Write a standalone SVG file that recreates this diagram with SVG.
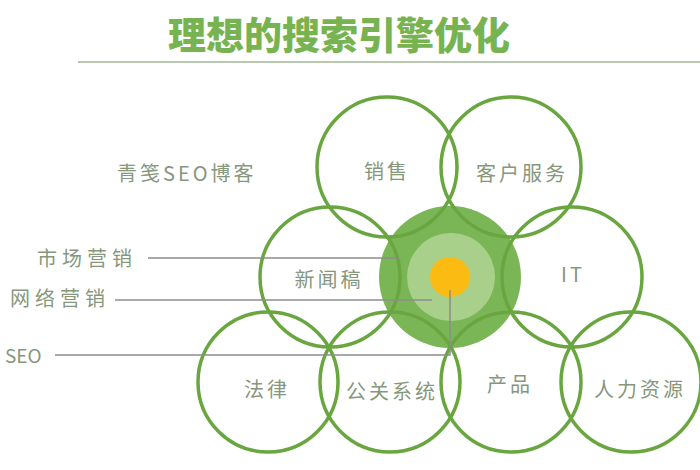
<svg xmlns="http://www.w3.org/2000/svg" width="700" height="470" viewBox="0 0 700 470">
<style>
.ring{fill:none;stroke:#6aa640;stroke-width:3.5}
.lbl{font-family:"Noto Sans CJK SC","Liberation Sans",sans-serif;font-size:20px;fill:#86977c;text-anchor:middle;dominant-baseline:central;letter-spacing:3px}
.side{font-family:"Noto Sans CJK SC","Liberation Sans",sans-serif;font-size:20px;fill:#86977c;dominant-baseline:central;letter-spacing:5px}
.conn{fill:none;stroke:#8c8c8c;stroke-width:1.5}
</style>
<rect width="700" height="470" fill="#ffffff"/>
<g id="title">
<text x="339" y="32" font-family="'Noto Sans CJK SC',sans-serif" font-size="38" font-weight="900" fill="#78b352" text-anchor="middle" dominant-baseline="central">理想的搜索引擎优化</text>
<line x1="78" y1="62" x2="700" y2="62" stroke="#9fb894" stroke-width="1.5"/>
</g>
<g id="core">
<circle cx="450" cy="277" r="71" fill="#7bb656"/>
<circle cx="451" cy="277" r="44" fill="#a8d08b"/>
<circle cx="450" cy="277" r="20" fill="#fbbb12"/>
</g>
<g id="n-sales"><circle class="ring" cx="387" cy="167" r="70"/><text class="lbl" x="387" y="170">销售</text></g>
<g id="n-service"><circle class="ring" cx="511" cy="167" r="70"/><text class="lbl" x="522" y="172">客户服务</text></g>
<g id="n-news"><circle class="ring" cx="330" cy="277" r="70"/><text class="lbl" x="329" y="278">新闻稿</text></g>
<g id="n-it"><circle class="ring" cx="572" cy="277" r="70"/><text class="lbl" x="573" y="273">IT</text></g>
<g id="n-law"><circle class="ring" cx="268" cy="382" r="70"/><text class="lbl" x="267" y="388">法律</text></g>
<g id="n-pr"><circle class="ring" cx="390" cy="382" r="70"/><text class="lbl" x="392" y="390">公关系统</text></g>
<g id="n-product"><circle class="ring" cx="511" cy="382" r="70"/><text class="lbl" x="510" y="383">产品</text></g>
<g id="n-hr"><circle class="ring" cx="631" cy="382" r="70"/><text class="lbl" x="640" y="388">人力资源</text></g>
<g id="n-blog"><text class="side" x="117" y="172" style="letter-spacing:3px">青笺SEO博客</text></g>
<g id="n-market"><text class="side" x="37" y="257">市场营销</text></g>
<g id="n-web"><text class="side" x="10" y="297">网络营销</text></g>
<g id="n-seo"><text class="side" x="5" y="354" style="letter-spacing:0;font-size:19px">SEO</text></g>
<g id="connectors">
<line class="conn" x1="148" y1="258" x2="399" y2="258"/>
<line class="conn" x1="115" y1="300" x2="432" y2="300"/>
<polyline class="conn" points="55,355 450,355 450,290"/>
</g>
</svg>
